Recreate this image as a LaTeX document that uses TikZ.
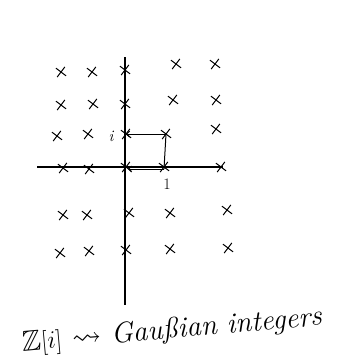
\documentclass[tikz,border=0pt]{standalone}
\usepackage{amssymb}
\usetikzlibrary{shapes.misc,arrows.meta}
\begin{document}
\begin{tikzpicture}[x=1pt,y=-1pt,
  pt/.style={cross out,draw=black,line width=1pt,minimum size=8pt,inner sep=0pt,rotate=8},
  axis/.style={line width=1.6pt,black},
  sq/.style={line width=1pt,black},
  lbl/.style={font=\fontsize{16}{18}\selectfont,inner sep=1pt}]
\useasboundingbox (0,0) rectangle (339,364);
% axes
\coordinate (yt) at (125,57);
\coordinate (yb) at (125,305);
\coordinate (xl) at (37,167);
\coordinate (xr) at (223,167);
\draw[axis] (yt) -- (yb);
\draw[axis] (xl) -- (xr);
% lattice points
\node[pt] (a1) at (61,72) {};
\node[pt] (a2) at (92,72) {};
\node[pt] (a3) at (125,70) {};
\node[pt] (a4) at (176,64) {};
\node[pt] (a5) at (215,64) {};
\node[pt] (b1) at (61,105) {};
\node[pt] (b2) at (93,104) {};
\node[pt] (b3) at (125,104) {};
\node[pt] (b4) at (173,100) {};
\node[pt] (b5) at (216,100) {};
\node[pt] (c1) at (57,136) {};
\node[pt] (c2) at (88,134) {};
\node[pt] (c3) at (126,134) {};
\node[pt] (c4) at (166,134) {};
\node[pt] (c5) at (216,129) {};
\node[pt] (d1) at (63,168) {};
\node[pt] (d2) at (89,169) {};
\node[pt] (d3) at (126,167) {};
\node[pt] (d4) at (164,167) {};
\node[pt] (d5) at (221,167) {};
\node[pt] (e1) at (63,215) {};
\node[pt] (e2) at (87,215) {};
\node[pt] (e3) at (129,213) {};
\node[pt] (e4) at (170,213) {};
\node[pt] (e5) at (227,210) {};
\node[pt] (f1) at (60,253) {};
\node[pt] (f2) at (89,251) {};
\node[pt] (f3) at (126,250) {};
\node[pt] (f4) at (170,249) {};
\node[pt] (f5) at (228,248) {};
% square
\draw[sq,-{Straight Barb[length=3pt,width=6pt]}] (c4.center) -- (c3.center);
\draw[sq] (c4.center) -- ([yshift=-2pt]d4.center);
\draw[sq,-{Straight Barb[length=3pt,width=6pt]}] ([yshift=-2pt]d4.center) -- ([yshift=-2pt,xshift=2pt]d3.center);
% labels
\node[lbl] (li) at (111,136) {\itshape i};
\node[lbl] (l1) at (167,184) {1};
% caption
\node[font=\fontsize{29}{32}\selectfont\itshape,rotate=5,inner sep=0pt] (cap) at (172,331)
  {$\mathbb{Z}[i]$ $\rightsquigarrow$ Gaußian integers};
\end{tikzpicture}
\end{document}
